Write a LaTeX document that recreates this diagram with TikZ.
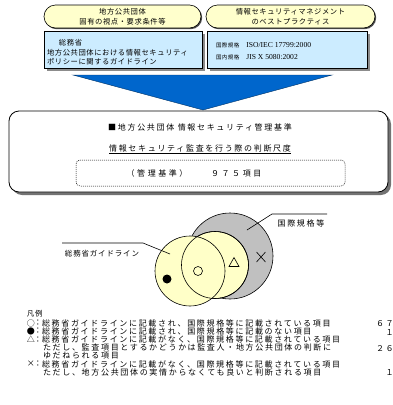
\documentclass[tikz,border=0pt]{standalone}
\usepackage{fontspec}
\setmainfont{Noto Sans CJK JP}
\newfontfamily\jpN{Noto Sans CJK JP}
\newfontfamily\jpA[LetterSpace=8]{Noto Sans CJK JP}
\newfontfamily\jpB[LetterSpace=21]{Noto Sans CJK JP}
\newfontfamily\jpC[LetterSpace=11]{Noto Sans CJK JP}
\newfontfamily\jpD[LetterSpace=32]{Noto Sans CJK JP}
\newfontfamily\serifL{Liberation Serif}
\usetikzlibrary{shapes.misc,shadows}
\definecolor{pillY}{HTML}{FFFFCC}
\definecolor{boxB}{HTML}{CCECFF}
\definecolor{arrB}{HTML}{0066CC}
\definecolor{venY}{HTML}{FFFFC8}
\definecolor{venG}{HTML}{C0C0C0}
\tikzset{
  txt/.style={inner sep=0pt, outer sep=0pt},
  pill/.style={draw, line width=0.6pt, fill=pillY, rounded rectangle, minimum height=23pt,
    inner sep=0pt, align=center, font=\fontsize{7.3}{10}\jpA,
    drop shadow={shadow xshift=1.2pt, shadow yshift=-1.2pt, fill=black!70, opacity=1}},
  bluebox/.style={draw, line width=0.6pt, fill=boxB, minimum height=37pt, inner sep=0pt,
    drop shadow={shadow xshift=3pt, shadow yshift=-3pt, fill=black!45, opacity=1}},
  mainbox/.style={draw, line width=0.8pt, fill=white, rounded corners=10pt,
    minimum width=379pt, minimum height=81pt, inner sep=0pt,
    drop shadow={shadow xshift=3pt, shadow yshift=-3pt, fill=black!55, opacity=1}},
  critbox/.style={draw, line width=0.5pt, dash pattern=on 1pt off 1pt, rounded corners=4pt,
    minimum width=269pt, minimum height=26pt, inner sep=0pt},
  chevron/.style={fill=arrB, draw=arrB!50!black, line width=0.4pt},
  vgray/.style={circle, draw, line width=0.6pt, fill=venG, inner sep=0pt},
  vyel/.style={circle, draw, line width=0.6pt, fill=venY, inner sep=0pt},
  vline/.style={circle, draw, line width=0.6pt, inner sep=0pt},
  leader/.style={line width=0.6pt},
  legend/.style={txt, anchor=west, font=\fontsize{8}{8}\jpB},
  sym/.style={txt, font=\fontsize{8}{8}\jpN},
}
\begin{document}
\begin{tikzpicture}[x=1pt,y=-1pt]
\useasboundingbox (0,0) rectangle (393,405);
\clip (0,0) rectangle (393,405);
% top pills
\node[pill, minimum width=157pt] (p1) at (122.5,16.5) {地方公共団体\\固有の視点・要求条件等};
\node[pill, minimum width=169pt] (p2) at (290.5,16.5) {情報セキュリティマネジメント\\のベストプラクティス};
% blue boxes
\node[bluebox, minimum width=158pt] (b1) at (123,49.5) {};
\node[bluebox, minimum width=160pt] (b2) at (287,49.5) {};
\node[txt, anchor=west, align=left, font=\fontsize{7.3}{9.5}\jpA] (b1t) at (47,52.5)
  {\hspace*{12pt}総務省\\地方公共団体における情報セキュリティ\\ポリシーに関するガイドライン};
\node[txt, anchor=west, align=left, font=\fontsize{7.6}{12}\serifL] (b2t) at (216,51)
  {{\fontsize{5.5}{12}\jpA 国際規格}\hspace{7pt}ISO/IEC 17799:2000\\{\fontsize{5.5}{12}\jpA 国内規格}\hspace{7pt}JIS X 5080:2002};
% chevron
\filldraw[chevron] (73,75) -- (332,75) -- (203,110) -- cycle;
% main box
\node[mainbox] (mb) at (198.5,151.5) {};
\node[txt, font=\fontsize{8}{8}\jpB] (m1) at (200,127) {■地方公共団体 情報セキュリティ管理基準};
\node[txt, font=\fontsize{8}{8}\jpB] (m2) at (200,149) {\underline{情報セキュリティ監査を行う際の判断尺度}};
\node[critbox] (cb) at (210.5,173) {};
\node[txt, font=\fontsize{8}{8}\jpD] (m3) at (194,173) {（管理基準）　　９７５項目};
% venn
\node[vgray, minimum size=86pt] (G) at (230,256) {};
\node[vyel, minimum size=67pt] (B) at (215,265) {};
\node[vyel, minimum size=70pt] (A) at (190,271) {};
\node[vline, minimum size=67pt] (B2) at (215,265) {};
\draw[line width=0.6pt] (198,271) circle (4.5);
\fill (167,279) circle (4.5);
\draw[line width=0.6pt] (229,266.5) -- (239,266.5) -- (234,257.5) -- cycle;
\draw[line width=0.6pt] (256.5,252) -- (265.5,262) (256.5,262) -- (265.5,252);
% labels
\node[txt, font=\fontsize{7.5}{7.5}\jpC] (gl) at (102,253.5) {総務省ガイドライン};
\coordinate (gla) at (62,243);
\coordinate (glb) at (143,243);
\coordinate (glc) at (170,254);
\draw[leader] (gla) -- (glb) -- (glc);
\node[txt, font=\fontsize{8}{8}\jpB] (il) at (301,223) {国際規格等};
\coordinate (ila) at (327,214);
\coordinate (ilb) at (272,214);
\coordinate (ilc) at (247,230);
\draw[leader] (ila) -- (ilb) -- (ilc);
% legend
\node[txt, anchor=west, font=\fontsize{7.5}{7.5}\jpA] (lg) at (27,314) {凡例};
\node[sym] (s1) at (31,323) {○};
\node[sym] (s2) at (31,331.2) {●};
\node[sym] (s3) at (31,339.4) {△};
\node[sym] (s6) at (31,364) {×};
\node[sym] (c1) at (38,323) {：};
\node[sym] (c2) at (38,331.2) {：};
\node[sym] (c3) at (38,339.4) {：};
\node[sym] (c6) at (38,364) {：};
\node[legend] (r1) at (42,323) {総務省ガイドラインに記載され、国際規格等に記載されている項目};
\node[legend] (r2) at (42,331.2) {総務省ガイドラインに記載され、国際規格等に記載のない項目};
\node[legend] (r3) at (42,339.4) {総務省ガイドラインに記載がなく、国際規格等に記載されている項目};
\node[legend] (r4) at (43,347.6) {ただし、監査項目とするかどうかは監査人・地方公共団体の判断に};
\node[legend] (r5) at (43,355.8) {ゆだねられる項目};
\node[legend] (r6) at (42,364) {総務省ガイドラインに記載がなく、国際規格等に記載されている項目};
\node[legend] (r7) at (43,372.2) {ただし、地方公共団体の実情からなくても良いと判断される項目};
\node[legend] (n1) at (376,323.5) {６７};
\node[legend] (n2) at (385.7,333) {１};
\node[legend] (n3) at (376,349) {２６};
\node[legend] (n4) at (385.7,373) {１};
\end{tikzpicture}
\end{document}
